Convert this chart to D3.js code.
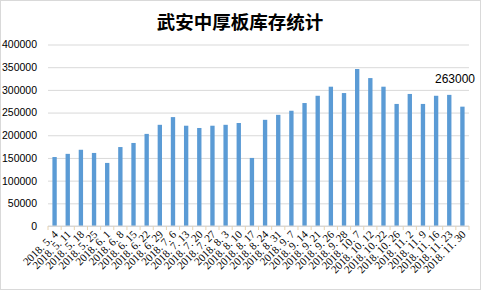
<!DOCTYPE html>
<html>
<head>
<meta charset="utf-8">
<script src="https://cdn.jsdelivr.net/npm/d3@7"></script>
<style>
  body { margin: 0; background: #fff; }
  svg { display: block; }
</style>
</head>
<body>
<svg width="481" height="290"></svg>
<script>
// weekly inventory, tonnes
var dates = ["2018. 5. 4", "2018. 5. 11", "2018. 5. 18", "2018. 5. 25", "2018. 6. 1", "2018. 6. 8",
  "2018. 6. 15", "2018. 6. 22", "2018. 6. 29", "2018. 7. 6", "2018. 7. 13", "2018. 7. 20",
  "2018. 7. 27", "2018. 8. 3", "2018. 8. 10", "2018. 8. 17", "2018. 8. 24", "2018. 8. 31",
  "2018. 9. 7", "2018. 9. 14", "2018. 9. 21", "2018. 9. 26", "2018. 9. 28", "2018. 10. 7",
  "2018. 10. 12", "2018. 10. 22", "2018. 10. 26", "2018. 11. 2", "2018. 11. 9", "2018. 11. 16",
  "2018. 11. 23", "2018. 11. 30"];
var stock = [152000, 159000, 168000, 161000, 139000, 174000, 183000, 203000, 223000, 240000,
  221000, 216000, 221000, 223000, 227000, 150000, 234000, 245000, 254000, 271000,
  287000, 307000, 293000, 346000, 326000, 307000, 269000, 291000, 269000, 287000,
  289000, 263000];
var yTicks = [0, 50000, 100000, 150000, 200000, 250000, 300000, 350000, 400000];

var svg = d3.select("svg"),
    width = +svg.attr("width"),
    height = +svg.attr("height"),
    margin = {top: 44.5, left: 48, right: 12, bottom: 64};

svg.append("rect")
    .attr("x", 0.5).attr("y", 0.5)
    .attr("width", width - 1).attr("height", height - 1)
    .attr("fill", "#fff").attr("stroke", "#d9d9d9");

var x = d3.scaleBand()
    .domain(dates)
    .range([margin.left, width - margin.right])
    .paddingInner(0.67).paddingOuter(0.335);

var y = d3.scaleLinear()
    .domain([0, 400000])
    .range([height - margin.bottom, margin.top]);

svg.append("text")
    .attr("x", 240).attr("y", 29)
    .attr("text-anchor", "middle")
    .attr("font-family", "'Noto Sans CJK SC'")
    .attr("font-weight", "bold")
    .attr("font-size", "18.5px")
    .attr("fill", "#000")
    .text("武安中厚板库存统计");

// gridlines + y labels
var yAxis = svg.append("g")
    .attr("transform", "translate(" + margin.left + ",0)")
    .call(d3.axisLeft(y).tickValues(yTicks).tickSize(-(width - margin.left - margin.right)).tickPadding(11).tickFormat(d3.format("d")));
yAxis.select(".domain").remove();
yAxis.selectAll(".tick line").attr("stroke", "#d9d9d9");
yAxis.selectAll(".tick text")
    .attr("font-family", "'Liberation Sans', Arial")
    .attr("font-size", "10.5px")
    .attr("fill", "#000");

svg.append("g").selectAll("rect")
    .data(stock)
  .enter().append("rect")
    .attr("x", function(d, i) { return x(dates[i]); })
    .attr("y", function(d) { return y(d); })
    .attr("width", x.bandwidth())
    .attr("height", function(d) { return y(0) - y(d); })
    .attr("fill", "#5b9bd5");

// category axis
var step = x.step();
var xAxis = svg.append("g")
    .attr("transform", "translate(0," + y(0) + ")");
xAxis.append("line")
    .attr("x1", margin.left).attr("x2", width - margin.right)
    .attr("stroke", "#d9d9d9");
xAxis.selectAll("line.tk")
    .data(d3.range(dates.length + 1))
  .enter().append("line")
    .attr("class", "tk")
    .attr("x1", function(i) { return margin.left + i * step; })
    .attr("x2", function(i) { return margin.left + i * step; })
    .attr("y1", 0).attr("y2", 4)
    .attr("stroke", "#e8d3b0");

xAxis.selectAll("text")
    .data(dates)
  .enter().append("text")
    .attr("transform", function(d) {
      return "translate(" + (x(d) + x.bandwidth() / 2 + 4) + ",9) rotate(-45)";
    })
    .attr("text-anchor", "end")
    .attr("font-family", "'Liberation Serif', serif")
    .attr("font-size", "11px")
    .attr("fill", "#000")
    .text(function(d) { return d; });

// data label of the last bar, sits at the right edge as in the source
var last = dates.length - 1;
svg.append("text")
    .attr("x", width - 6)
    .attr("y", 83)
    .attr("text-anchor", "end")
    .attr("font-family", "'Liberation Sans', Arial")
    .attr("font-size", "12px")
    .attr("fill", "#000")
    .text(d3.format("d")(stock[last]));
</script>
</body>
</html>
